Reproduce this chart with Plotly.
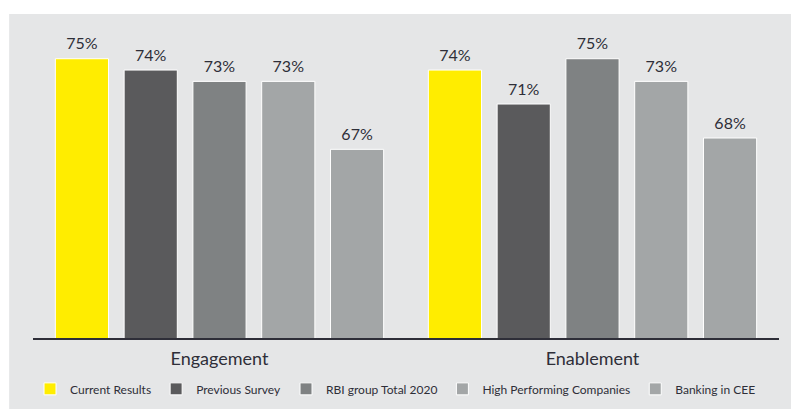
import plotly.graph_objects as go

# Survey dimensions and results per benchmark group (percent)
categories = ["Engagement", "Enablement"]
series_names = [
    "Current Results",
    "Previous Survey",
    "RBI group Total 2020",
    "High Performing Companies",
    "Banking in CEE",
]
current_results = [75, 74]
previous_survey = [74, 71]
rbi_group_total_2020 = [73, 75]
high_performing = [73, 73]
banking_cee = [67, 68]

series_values = [current_results, previous_survey, rbi_group_total_2020,
                 high_performing, banking_cee]
series_colors = ["#FFED00", "#5A5A5C", "#7F8283", "#A3A6A7", "#A3A6A7"]

TEXT_COLOR = "#2E2E38"
FONT = "Lato"
BAR_GAP = 0.078
BAR_GROUP_GAP = 0.227

fig = go.Figure()

for i, (name, vals, col) in enumerate(zip(series_names, series_values, series_colors)):
    fig.add_trace(go.Bar(
        x=categories, y=vals, name=name,
        offsetgroup=str(i),
        marker=dict(color=col, line=dict(color="#FFFFFF", width=1)),
        hoverinfo="skip",
    ))

# value labels sitting a little above each bar
for i, vals in enumerate(series_values):
    fig.add_trace(go.Scatter(
        x=categories, y=vals,
        offsetgroup=str(i),
        mode="markers+text",
        text=[f"{v}%" for v in vals],
        textposition="top center",
        textfont=dict(family=FONT, size=16, color=TEXT_COLOR),
        marker=dict(size=7, opacity=0),
        showlegend=False, hoverinfo="skip", cliponaxis=False,
    ))

# light grey panel behind the chart
fig.add_shape(type="rect", xref="paper", yref="paper",
              x0=-0.032, x1=1.03, y0=-0.3, y1=1.0,
              fillcolor="#E5E6E7", line=dict(width=0), layer="below")

fig.update_layout(
    width=791, height=409,
    margin=dict(l=33, r=12, t=14, b=71, autoexpand=False),
    paper_bgcolor="#FFFFFF",
    plot_bgcolor="rgba(0,0,0,0)",
    barmode="group",
    bargap=BAR_GAP,
    bargroupgap=BAR_GROUP_GAP,
    scattermode="group",
    scattergap=BAR_GAP,
    font=dict(family=FONT, color=TEXT_COLOR),
    xaxis=dict(
        showline=True, linecolor="#2E2E38", linewidth=2,
        showgrid=False, zeroline=False, ticks="",
        tickfont=dict(family=FONT, size=18, color=TEXT_COLOR),
        ticklabelstandoff=3,
    ),
    yaxis=dict(range=[50.34, 78.95], visible=False, showgrid=False),
    legend=dict(
        orientation="h", x=-0.004, xanchor="left", y=-0.157, yanchor="middle",
        font=dict(family=FONT, size=12, color=TEXT_COLOR),
        bgcolor="rgba(0,0,0,0)",
    ),
)

fig.write_html("out.html")
